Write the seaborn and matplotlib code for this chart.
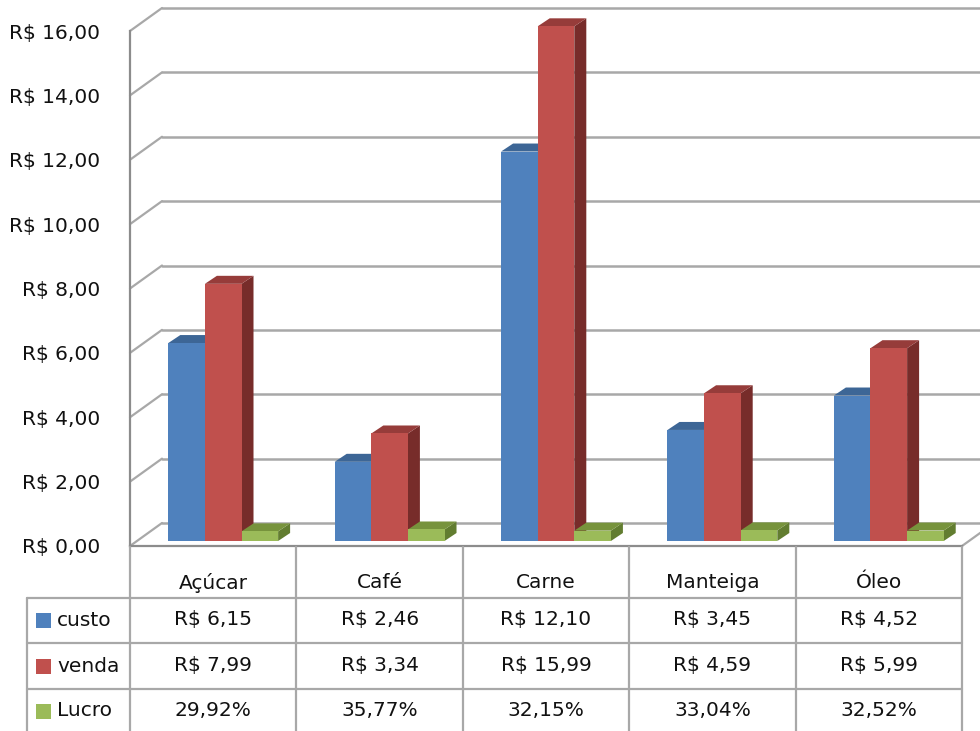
import pandas as pd
import matplotlib
matplotlib.use("Agg")
import matplotlib.pyplot as plt
import matplotlib.transforms as mtransforms
from matplotlib.patches import Polygon, Rectangle
from matplotlib.lines import Line2D
import seaborn as sns

produtos = ["Açúcar", "Café", "Carne", "Manteiga", "Óleo"]
custo = [6.15, 2.46, 12.10, 3.45, 4.52]
venda = [7.99, 3.34, 15.99, 4.59, 5.99]
lucro = [29.92, 35.77, 32.15, 33.04, 32.52]  # em %
series = ["custo", "venda", "Lucro"]
yticks = [0, 2, 4, 6, 8, 10, 12, 14, 16]

front = ["#4F81BD", "#C0504D", "#9BBB59"]
top = ["#3D6696", "#963C3A", "#77933C"]
side = ["#30557F", "#772C2A", "#627D30"]
grid = "#A8A8A8"
txt = "#111111"

def brl(v):
    return f"R$ {v:.2f}".replace(".", ",")

df = pd.DataFrame({
    "produto": produtos * 3,
    "serie": [s for s in series for _ in produtos],
    "valor": custo + venda + [v / 100 for v in lucro],
})

sns.set_style("white")
plt.rcParams["font.family"] = ["DejaVu Sans"]

W, H = 980, 731
fig = plt.figure(figsize=(W / 100, H / 100), dpi=100)
ax = fig.add_axes([130 / W, (H - 546) / H, 832 / W, 515 / H])
sns.barplot(data=df, x="produto", y="valor", hue="serie", palette=front,
            saturation=1, width=0.66, errorbar=None, legend=False,
            linewidth=0, ax=ax)
ax.set_xlim(-0.5, 4.5)
ax.set_ylim(0, 16)
ax.set_xticks([])
ax.set_xlabel("")
ax.set_ylabel("")
ax.set_yticks(yticks)
ax.set_yticklabels([brl(v) for v in yticks])
ax.tick_params(axis="y", length=0, pad=21.6, labelsize=14.5, labelcolor=txt)
for s in ["top", "right"]:
    ax.spines[s].set_visible(False)
for s in ["left", "bottom"]:
    ax.spines[s].set_color("#8C8C8C")
    ax.spines[s].set_linewidth(1.6)
ax.patch.set_alpha(0)

ident = mtransforms.IdentityTransform()

# parede do fundo e lateral (3D falso)
back = mtransforms.ScaledTranslation(0.32, 0.23, fig.dpi_scale_trans)
for v in yticks:
    ax.plot([-0.5, 4.6], [v, v], color=grid, lw=1.8,
            transform=ax.transData + back, clip_on=False, zorder=1)
    x0, y0 = ax.transData.transform((-0.5, v))
    ax.add_line(Line2D([x0, x0 + 32], [y0, y0 + 23], color=grid, lw=1.6,
                       transform=ident, clip_on=False, zorder=1))
x1, y1 = ax.transData.transform((4.5, 0))
ax.add_line(Line2D([x1, x1 + 32], [y1, y1 + 23], color=grid, lw=1.6,
                   transform=ident, clip_on=False, zorder=1))

# barras com topo e lateral
shift = mtransforms.ScaledTranslation(0.10, 0.05, fig.dpi_scale_trans)
dx, dy = 12, 8
n = len(produtos)
order = sorted(range(len(ax.patches)), key=lambda j: ax.patches[j].get_x())
for rank, j in enumerate(order):
    p = ax.patches[j]
    k = j // n
    z = 3 + rank * 0.03
    p.set_transform(ax.transData + shift)
    p.set_clip_on(False)
    p.set_zorder(z + 0.02)
    T = ax.transData + shift
    xl, yb = T.transform((p.get_x(), p.get_y()))
    xr, yt = T.transform((p.get_x() + p.get_width(), p.get_y() + p.get_height()))
    ax.add_patch(Polygon([(xr, yb), (xr + dx, yb + dy), (xr + dx, yt + dy), (xr, yt)],
                         closed=True, facecolor=side[k], edgecolor="none",
                         transform=ident, clip_on=False, zorder=z))
    ax.add_patch(Polygon([(xl, yt), (xr, yt), (xr + dx, yt + dy), (xl + dx, yt + dy)],
                         closed=True, facecolor=top[k], edgecolor="none",
                         transform=ident, clip_on=False, zorder=z + 0.01))

# tabela de dados
bx = [ax.transData.transform((i - 0.5, 0))[0] for i in range(n + 1)]
def Y(y):
    return H - y

line_kw = dict(color=grid, lw=1.6, transform=ident, clip_on=False)
for x in bx:
    fig.add_artist(Line2D([x, x], [Y(547), Y(740)], **line_kw))
fig.add_artist(Line2D([27, 27], [Y(598), Y(740)], **line_kw))
for y in [598, 643, 689]:
    fig.add_artist(Line2D([27, bx[-1]], [Y(y), Y(y)], **line_kw))

centers = [(bx[i] + bx[i + 1]) / 2 for i in range(n)]
fs = 14.5
for c, nome in zip(centers, produtos):
    fig.text(c, Y(583), nome, ha="center", va="center", fontsize=fs,
             color=txt, transform=ident)

rows = [[brl(v) for v in custo], [brl(v) for v in venda],
        [f"{v:.2f}%".replace(".", ",") for v in lucro]]
row_y = [620, 666, 711]
for k, (nome, vals, y) in enumerate(zip(series, rows, row_y)):
    fig.add_artist(Rectangle((36, Y(y) - 7.5), 15, 15, facecolor=front[k],
                             edgecolor="none", transform=ident))
    fig.text(57, Y(y), nome, ha="left", va="center", fontsize=fs,
             color=txt, transform=ident)
    for c, t in zip(centers, vals):
        fig.text(c, Y(y), t, ha="center", va="center", fontsize=fs,
                 color=txt, transform=ident)

fig.savefig("out.png", dpi=100)
